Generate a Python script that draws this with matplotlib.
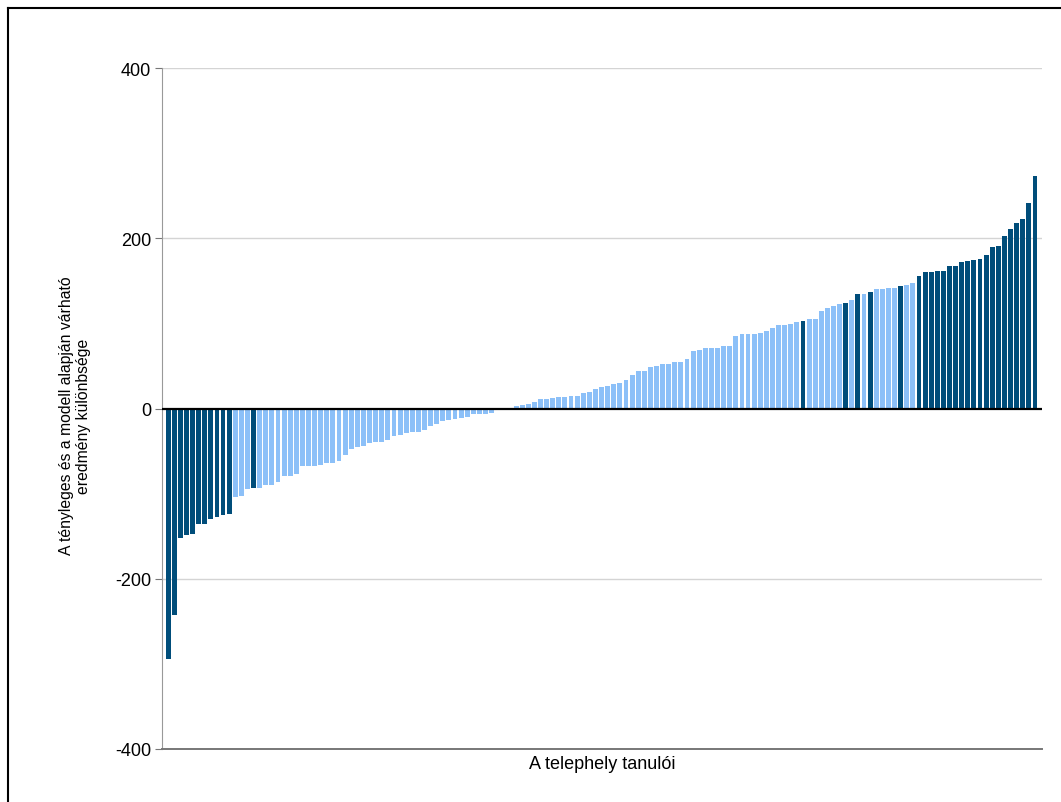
# Difference between actual and model-expected scores, per student

import numpy as np
import matplotlib.pyplot as plt
from matplotlib.lines import Line2D

plt.rcParams['font.family'] = ['Liberation Sans', 'DejaVu Sans']

# Data (sorted students)
values = [-294, -242, -152, -149, -148, -136, -136, -130, -127, -125,
          -124, -104, -103, -94, -93, -93, -90, -90, -86, -79,
          -79, -77, -68, -67, -67, -66, -64, -64, -62, -55,
          -48, -45, -44, -40, -39, -39, -37, -32, -31, -29,
          -28, -28, -25, -20, -18, -15, -13, -12, -11, -10,
          -7, -7, -6, -5, -2, -1, -1, 3, 4, 5,
          8, 11, 11, 12, 13, 13, 15, 15, 18, 19,
          23, 25, 26, 29, 30, 33, 39, 44, 44, 49,
          50, 52, 52, 55, 55, 58, 67, 69, 71, 71,
          71, 73, 74, 85, 87, 87, 88, 89, 91, 94,
          98, 98, 99, 102, 103, 105, 105, 114, 118, 120,
          123, 124, 127, 134, 135, 137, 140, 140, 142, 142,
          144, 145, 147, 156, 160, 160, 162, 162, 167, 167,
          172, 173, 174, 176, 180, 190, 191, 203, 211, 218,
          223, 241, 273]
# students of the selected site (1-based positions)
highlighted = list(range(1, 12)) + [15, 105, 112, 114, 116, 121] + list(range(124, 144))

yticks = [-400, -200, 0, 200, 400]
xlabel = 'A telephely tanulói'
ylabel = 'A tényleges és a modell alapján várható\neredmény különbsége'

dark = '#004d7a'
light = '#8cc0f8'
colors = [dark if i + 1 in highlighted else light for i in range(len(values))]

fig = plt.figure(figsize=(10.61, 8.03), dpi=100)
ax = fig.add_axes([162 / 1061, 53 / 803, 880 / 1061, 681 / 803])

x = np.arange(len(values))
ax.bar(x, values, width=0.8, color=colors, zorder=3)

ax.set_xlim(-1.0, len(values) + 0.15)
ax.set_ylim(-400, 400)
ax.set_yticks(yticks)
ax.set_yticklabels([str(t) for t in yticks], fontsize=13)
ax.set_xticks([])

# gridlines and zero line
for t in [400, 200, -200]:
    ax.axhline(t, color='#d4d4d4', linewidth=1, zorder=1)
ax.axhline(0, color='black', linewidth=1.6, zorder=4)

for s in ['top', 'right']:
    ax.spines[s].set_visible(False)
ax.spines['left'].set_color('#999999')
ax.spines['bottom'].set_color('#777777')
ax.spines['bottom'].set_linewidth(1.4)
ax.tick_params(axis='y', length=5, color='#777777', pad=3)

ax.set_xlabel(xlabel, fontsize=13, labelpad=4)
fig.text(75 / 1061, 1 - 416 / 803, ylabel, rotation=90, ha='center',
         va='center', multialignment='center', fontsize=11.3)

# frame around the picture (cut off right and bottom)
fig.add_artist(Line2D([8 / 1061, 1.0], [1 - 9 / 803, 1 - 9 / 803],
                      color='black', linewidth=1.5, transform=fig.transFigure))
fig.add_artist(Line2D([8 / 1061, 8 / 1061], [0.0, 1 - 9 / 803],
                      color='black', linewidth=1.5, transform=fig.transFigure))

plt.savefig('out.png', dpi=100)
